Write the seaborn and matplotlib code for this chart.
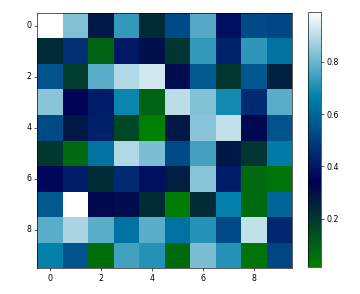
import numpy as np
import matplotlib
matplotlib.use("Agg")
import matplotlib.pyplot as plt
import seaborn as sns

row0 = [0.99, 0.83, 0.28, 0.73, 0.23, 0.53, 0.77, 0.38, 0.53, 0.52]
row1 = [0.23, 0.46, 0.09, 0.40, 0.30, 0.21, 0.73, 0.43, 0.72, 0.63]
row2 = [0.55, 0.19, 0.78, 0.89, 0.93, 0.31, 0.57, 0.20, 0.56, 0.26]
row3 = [0.84, 0.34, 0.41, 0.68, 0.09, 0.90, 0.83, 0.69, 0.45, 0.78]
row4 = [0.53, 0.28, 0.42, 0.16, 0.016, 0.28, 0.84, 0.91, 0.32, 0.55]
row5 = [0.20, 0.07, 0.63, 0.89, 0.82, 0.53, 0.75, 0.28, 0.21, 0.65]
row6 = [0.36, 0.41, 0.23, 0.45, 0.38, 0.27, 0.84, 0.41, 0.07, 0.05]
row7 = [0.57, 0.99, 0.32, 0.31, 0.23, 0.03, 0.23, 0.67, 0.07, 0.60]
row8 = [0.78, 0.88, 0.78, 0.63, 0.78, 0.63, 0.71, 0.53, 0.91, 0.44]
row9 = [0.67, 0.55, 0.06, 0.75, 0.71, 0.07, 0.82, 0.71, 0.05, 0.52]
tick_labels = ["0", "2", "4", "6", "8"]
cbar_ticks = [0.2, 0.4, 0.6, 0.8]

data = np.array([row0, row1, row2, row3, row4, row5, row6, row7, row8, row9])

fig = plt.figure(figsize=(6.4, 5.2128), dpi=56.4)
ax = fig.add_axes([0.1025, 0.088, 0.7065, 0.868])
cax = fig.add_axes([0.853, 0.092, 0.035, 0.867])

sns.heatmap(data, cmap="ocean", ax=ax, cbar_ax=cax, square=False,
            cbar_kws={"ticks": cbar_ticks})
ax.set_xticks([0.5, 2.5, 4.5, 6.5, 8.5])
ax.set_xticklabels(tick_labels, rotation=0)
ax.set_yticks([0.5, 2.5, 4.5, 6.5, 8.5])
ax.set_yticklabels(tick_labels, rotation=0)
ax.tick_params(length=3.5, width=0.8)
for s in ax.spines.values():
    s.set_visible(True)
    s.set_linewidth(0.8)
cb = ax.collections[0].colorbar
cb.outline.set_visible(True)
cb.outline.set_linewidth(0.8)
cax.tick_params(length=3.5, width=0.8)

fig.savefig("out.png", dpi=56.4)
